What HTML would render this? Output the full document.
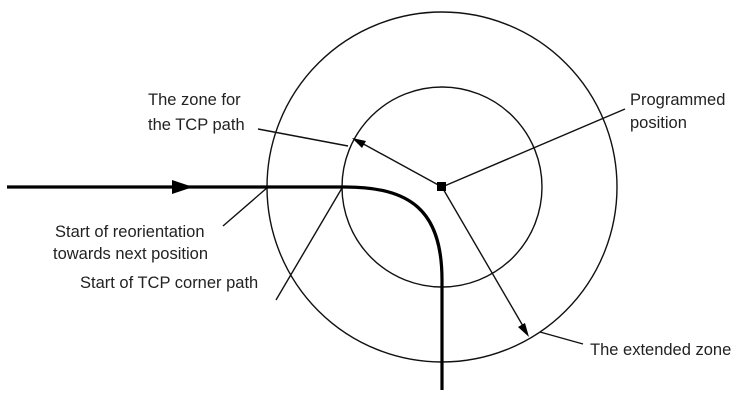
<!DOCTYPE html>
<html><head><style>body{margin:0;background:#fff}svg{display:block}text{font-family:"Liberation Sans",Arial,sans-serif;font-size:16.5px;fill:#222}</style></head>
<body>
<svg width="752" height="404" viewBox="0 0 752 404">
<g fill="none" stroke="#111" stroke-width="1.4">
<circle cx="442" cy="187" r="175"/>
<circle cx="442" cy="187" r="100"/>
<line x1="258" y1="129" x2="348" y2="146"/>
<line x1="442" y1="187" x2="358" y2="141"/>
<line x1="442" y1="187" x2="625" y2="109"/>
<line x1="442" y1="187" x2="523" y2="326"/>
<line x1="223" y1="226" x2="268" y2="187"/>
<line x1="342" y1="188" x2="276" y2="300"/>
<line x1="540" y1="332" x2="583" y2="344"/>
</g>
<path d="M7 187 H345 C410 187 442 210 442 280 V390" fill="none" stroke="#000" stroke-width="3.2"/>
<polygon points="172,180 193,187 172,194" fill="#000"/>
<polygon points="352,138 366,141 362,148" fill="#000"/>
<polygon points="529,337 518,327 525,323" fill="#000"/>
<rect x="437" y="182" width="9" height="9" fill="#000"/>
<text x="148" y="105">The zone for</text>
<text x="148" y="130">the TCP path</text>
<text x="630" y="105">Programmed</text>
<text x="630" y="128">position</text>
<text x="55" y="237">Start of reorientation</text>
<text x="53" y="259">towards next position</text>
<text x="80" y="288">Start of TCP corner path</text>
<text x="590" y="355">The extended zone</text>
</svg>
</body></html>
